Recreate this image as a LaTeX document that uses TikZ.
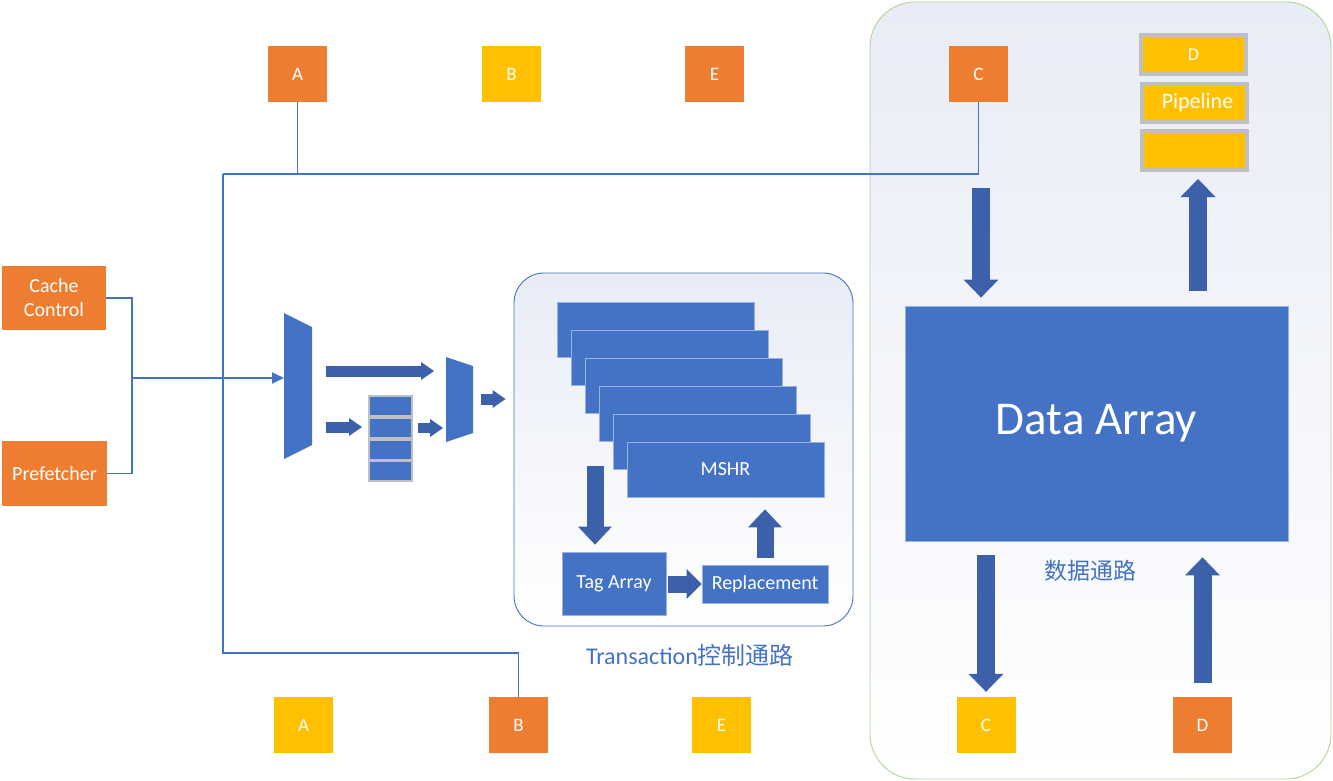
\documentclass[tikz,border=0pt]{standalone}
\usepackage{fontspec}
\setmainfont{Carlito}
\newfontfamily\cjk{Noto Sans CJK SC}
\usetikzlibrary{arrows.meta, positioning}

\definecolor{boxorange}{RGB}{237,125,49}
\definecolor{boxyellow}{RGB}{255,192,0}
\definecolor{blockblue}{RGB}{68,114,196}
\definecolor{arrowblue}{RGB}{61,96,170}
\definecolor{edgegray}{RGB}{191,191,191}
\definecolor{panelgreen}{RGB}{178,212,150}
\definecolor{panelshade}{RGB}{232,236,246}

\begin{document}
\begin{tikzpicture}[x=1pt, y=-1pt,
    letterbox/.style={minimum width=59pt, minimum height=56pt, inner sep=0pt, text=white, font=\fontsize{19}{22}\selectfont},
    obox/.style={letterbox, fill=boxorange},
    ybox/.style={letterbox, fill=boxyellow},
    block/.style={fill=blockblue, draw=blockblue!55!white, line width=0.8pt, text=white, inner sep=0pt, font=\fontsize{20}{24}\selectfont},
    wire/.style={draw=blockblue, line width=1.8pt},
    fatarrow/.style={draw=arrowblue, line width=18pt, -{Triangle[width=35pt, length=18pt, line width=0pt]}},
    midarrow/.style={draw=arrowblue, line width=17pt, -{Triangle[width=34pt, length=18pt, line width=0pt]}},
    slimarrow/.style={draw=arrowblue, line width=11pt, -{Triangle[width=18pt, length=13pt, line width=0pt]}},
    pipe/.style={fill=boxyellow, draw=edgegray, line width=4pt, minimum width=105pt, minimum height=39pt, inner sep=0pt, text=white},
    cell/.style={fill=blockblue, draw=edgegray, line width=2pt, minimum width=43pt, minimum height=20pt, inner sep=0pt},
    panel/.style={rounded corners=#1, top color=panelshade, bottom color=white, inner sep=0pt, line width=0.9pt},
    pathlabel/.style={text=blockblue, font=\fontsize{24}{28}\selectfont}
  ]
  \fill[white] (0,0) rectangle (1333,781);
  \useasboundingbox (0,0) rectangle (1333,781);

  % Draw the two panels
  \node[panel=45pt, draw=panelgreen, minimum width=461pt, minimum height=777pt] (datapanel) at (1100.5,390.5) {};
  \node[panel=30pt, draw=blockblue, minimum width=339pt, minimum height=353pt] (ctrl) at (683.5,449.5) {};

  % Draw the port boxes on top and bottom
  \node[obox] (atop) at (297.5,74) {A};
  \node[ybox] (btop) at (511.5,74) {B};
  \node[obox] (etop) at (714.5,74) {E};
  \node[obox] (ctop) at (978.5,74) {C};

  \node[ybox] (abot) at (303.5,725) {A};
  \node[obox] (bbot) at (518.5,725) {B};
  \node[ybox] (ebot) at (721.5,725) {E};
  \node[ybox] (cbot) at (986,725) {C};
  \node[obox] (dbot) at (1202.5,725) {D};

  % Draw the request sources
  \node[obox, minimum width=104pt, minimum height=64pt, align=center, font=\fontsize{20}{24}\selectfont] (cc) at (54,298) {Cache\\Control};
  \node[obox, minimum width=105pt, minimum height=65pt, font=\fontsize{20}{24}\selectfont] (pf) at (54.5,473.5) {Prefetcher};

  % Draw the muxes and the queue
  \fill[blockblue] (284,313) -- (312,327) -- (312,445) -- (284,459) -- cycle;
  \fill[blockblue] (446,357) -- (473,366) -- (473,433) -- (446,442) -- cycle;
  \coordinate (bm-in) at (284,378);
  \coordinate (bm-out1) at (312,371);
  \coordinate (bm-out2) at (312,427);
  \coordinate (sm-in1) at (446,371);
  \coordinate (sm-in2) at (446,428);
  \coordinate (sm-out) at (473,399);
  \foreach \i in {0,...,3}
    \node[cell] (q\i) at (390.5,{406+21.8*\i}) {};

  % Draw the MSHR stack
  \foreach \i in {0,...,4}
    \node[block, minimum width=197pt, minimum height=55pt] (m\i) at ({655.5+14*\i},{329.5+28*\i}) {};
  \node[block, minimum width=197pt, minimum height=55pt] (m5) at (725.5,469.5) {MSHR};
  \node[block, minimum width=104pt, minimum height=63pt] (tag) at (614,583.5) {Tag Array};
  \node[block, minimum width=126pt, minimum height=38pt] (rep) at (765,584) {Replacement};
  \coordinate (stackout) at (595,466);

  % Draw the data array and the pipeline
  \node[block, minimum width=383pt, minimum height=235pt, font=\fontsize{47}{56}\selectfont] (data) at (1096.5,423.5) {Data Array};
  \node[pipe, font=\fontsize{18}{22}\selectfont] (pipe1) at (1193.5,54.5) {D};
  \node[pipe, minimum height=38pt, font=\fontsize{22}{26}\selectfont] (pipe2) at (1194.5,103) {\hspace{6pt}Pipeline};
  \node[pipe] (pipe3) at (1194.5,150.5) {};

  % Draw the labels
  \node[pathlabel] (ctrllabel) at (690,655) {Transaction{\cjk 控制通路}};
  \node[pathlabel, font=\fontsize{23}{27}\selectfont\cjk] (datalabel) at (1090,571) {数据通路};

  % Draw the wires
  \coordinate (join) at (132,378);
  \coordinate (corner) at (223,174);
  \draw[wire] (cc.east) -| (join);
  \draw[wire] (pf.east) -| (join);
  \draw[wire, -{Triangle[width=11pt, length=12pt]}] (join) -- (bm-in);
  \draw[wire] (ctop.south) |- (corner);
  \draw[wire] (atop.south) -- (atop.south |- corner);
  \draw[wire] (corner) -- ++(0,479) -| (bbot.north);

  % Draw the block arrows
  \draw[slimarrow, shorten <=14pt, shorten >=12pt] (bm-out1) -- (sm-in1);
  \draw[slimarrow, shorten <=14pt, shorten >=6pt] (bm-out2) -- (q0.west |- bm-out2);
  \draw[slimarrow, line width=10pt, shorten <=5pt, shorten >=3pt] (q1.east |- sm-in2) -- (sm-in2);
  \draw[slimarrow, shorten <=8pt, shorten >=8pt] (sm-out) -- (ctrl.west |- sm-out);

  \draw[midarrow, shorten >=7pt] (stackout) -- (stackout |- tag.north);
  \draw[midarrow, -{Triangle[width=30pt, length=15pt, line width=0pt]}, shorten <=2pt] (tag.east |- rep.west) -- (rep.west);
  \draw[midarrow, shorten <=7pt, shorten >=12pt] (rep.north) -- (rep.north |- m5.south);

  \draw[fatarrow, shorten <=86pt, shorten >=8pt] ([xshift=2.5pt]ctop.south) -- ([xshift=2.5pt]ctop.south |- data.north);
  \draw[fatarrow, shorten <=15pt, shorten >=7pt] ([xshift=3.5pt]pipe3.south |- data.north) -- ([xshift=3.5pt]pipe3.south);
  \draw[fatarrow, shorten <=14pt, shorten >=5pt] (cbot.north |- data.south) -- (cbot.north);
  \draw[fatarrow, shorten <=14pt, shorten >=16pt] (dbot.north) -- (dbot.north |- data.south);
\end{tikzpicture}
\end{document}
